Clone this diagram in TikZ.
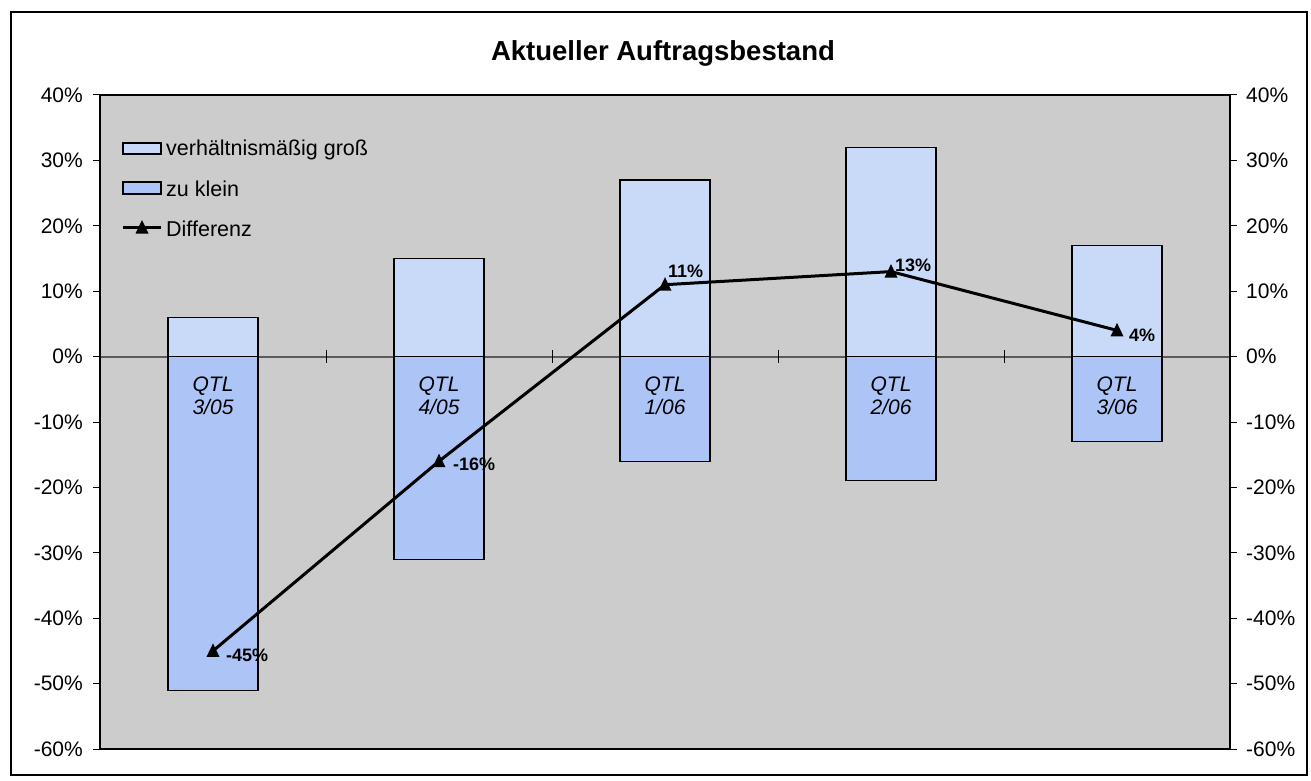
\documentclass[tikz,border=0pt]{standalone}
\usepackage{fontspec}
\setmainfont{Liberation Sans}
\definecolor{plotbg}{RGB}{204,204,204}
\definecolor{bigc}{RGB}{201,218,248}
\definecolor{smallc}{RGB}{173,197,246}
\definecolor{zeroc}{RGB}{90,90,90}
\begin{document}
\begin{tikzpicture}[x=1pt,y=-1pt,
  axislbl/.style={font=\fontsize{21}{23}\selectfont, inner sep=0pt},
  leglbl/.style={font=\fontsize{21.5}{23}\selectfont, inner sep=0pt, anchor=west},
  qtl/.style={font=\fontsize{21}{23}\selectfont\itshape, align=center, inner sep=0pt},
  datalbl/.style={font=\fontsize{18}{20}\selectfont\bfseries, inner sep=0pt},
  barbox/.style={draw=black, line width=1.2pt},
  diffline/.style={line width=3pt, line join=round},
  tickline/.style={line width=1pt}]
\useasboundingbox (0,0) rectangle (1311,781);
% outer frame
\draw[line width=2.5pt] (11,12) rectangle (1307,775);
% title
\node[font=\fontsize{27.5}{30}\selectfont\bfseries, inner sep=0pt] (title) at (663,53) {Aktueller Auftragsbestand};
% plot area
\fill[plotbg] (100,95) rectangle (1230,749);
\draw[zeroc, line width=2pt] (100,356.6) -- (1230,356.6);
\foreach \x in {326,552,778,1004}
  \draw[tickline] (\x,350) -- (\x,363);
% bars: center, big value, small value
\foreach \c/\b/\s in {213/6/-51, 439/15/-31, 665/27/-16, 891/32/-19, 1117/17/-13}{
  \pgfmathsetmacro{\yb}{356.6-6.54*\b}
  \pgfmathsetmacro{\ys}{356.6-6.54*\s}
  \filldraw[barbox, fill=bigc] (\c-45,356.6) rectangle (\c+45,\yb);
  \filldraw[barbox, fill=smallc] (\c-45,356.6) rectangle (\c+45,\ys);
}
% frame of plot
\draw[line width=1.2pt] (100,95) rectangle (1230,749);
% axis ticks and labels
\foreach \v in {40,30,...,-60}{
  \pgfmathsetmacro{\yy}{356.6-6.54*\v}
  \draw[tickline] (93,\yy) -- (100,\yy);
  \draw[tickline] (1230,\yy) -- (1237,\yy);
  \node[axislbl, anchor=east] (L\v) at (83,\yy) {\v\%};
  \node[axislbl, anchor=west] (R\v) at (1246,\yy) {\v\%};
}
% category labels
\node[qtl] (q1) at (213,396) {QTL\\3/05};
\node[qtl] (q2) at (439,396) {QTL\\4/05};
\node[qtl] (q3) at (665,396) {QTL\\1/06};
\node[qtl] (q4) at (891,396) {QTL\\2/06};
\node[qtl] (q5) at (1117,396) {QTL\\3/06};
% Differenz line
\coordinate (d1) at (213,650.9);
\coordinate (d2) at (439,461.2);
\coordinate (d3) at (665,284.7);
\coordinate (d4) at (891,271.6);
\coordinate (d5) at (1117,330.4);
\draw[diffline] (d1) -- (d2) -- (d3) -- (d4) -- (d5);
\foreach \p in {d1,d2,d3,d4,d5}
  \fill (\p) ++(0,-7.5) -- ++(6.5,13.5) -- ++(-13,0) -- cycle;
\node[datalbl, anchor=west] (l1) at ([xshift=13pt,yshift=-4pt]d1) {-45\%};
\node[datalbl, anchor=west] (l2) at ([xshift=14pt,yshift=-3pt]d2) {-16\%};
\node[datalbl, anchor=south west] (l3) at ([xshift=3pt,yshift=7pt]d3) {11\%};
\node[datalbl, anchor=south west] (l4) at ([xshift=4pt,yshift=0pt]d4) {13\%};
\node[datalbl, anchor=west] (l5) at ([xshift=12pt,yshift=-5pt]d5) {4\%};
% legend
\filldraw[barbox, fill=bigc] (123,143) rectangle (161,154);
\node[leglbl] (lg1) at (166,150) {verhältnismäßig groß};
\filldraw[barbox, fill=smallc] (123,182) rectangle (161,194);
\node[leglbl] (lg2) at (166,189) {zu klein};
\coordinate (la) at (123,227.5);
\coordinate (lb) at (161,227.5);
\draw[diffline] (la) -- (lb);
\fill (142,227.5) ++(0,-7.5) -- ++(6.5,13.5) -- ++(-13,0) -- cycle;
\node[leglbl] (lg3) at (166,229) {Differenz};
\end{tikzpicture}
\end{document}
